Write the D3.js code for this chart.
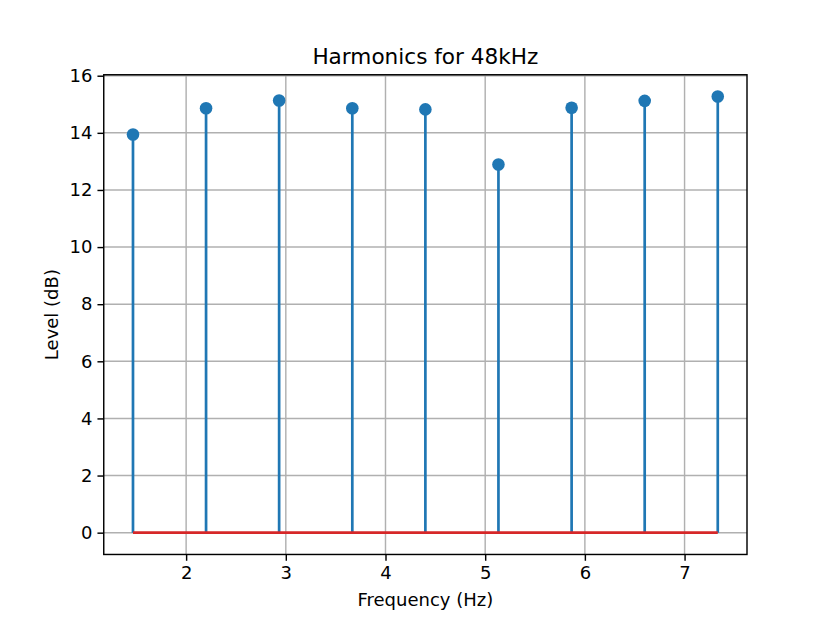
<!DOCTYPE html>
<html>
<head>
<meta charset="utf-8">
<script src="https://cdn.jsdelivr.net/npm/d3@7"></script>
<style>
  body { margin: 0; background: #fff; }
  text { font-family: "DejaVu Sans", sans-serif; fill: #000; }
</style>
</head>
<body>
<svg width="830" height="623"></svg>
<script>
// Data
var freqs = [1.467, 2.2, 2.933, 3.667, 4.4, 5.133, 5.867, 6.6, 7.333];
var levels = [13.94, 14.86, 15.13, 14.86, 14.82, 12.89, 14.88, 15.12, 15.27];
var xTicks = [2, 3, 4, 5, 6, 7];
var yTicks = [0, 2, 4, 6, 8, 10, 12, 14, 16];

var svg = d3.select("svg"),
  width = +svg.attr("width"),
  height = +svg.attr("height");

// axes box like matplotlib defaults
var axLeft = 0.125 * width, axRight = 0.9 * width,
  axTop = 0.12 * height, axBottom = 0.89 * height;

var xmin = d3.min(freqs), xmax = d3.max(freqs), xpad = (xmax - xmin) * 0.05;
var ymax = d3.max(levels), ypad = ymax * 0.05;

var x = d3.scaleLinear().domain([xmin - xpad, xmax + xpad]).range([axLeft, axRight]);
var y = d3.scaleLinear().domain([-ypad, ymax + ypad]).range([axBottom, axTop]);

var blue = "#1f77b4", red = "#d62728";

// grid
svg.append("g").selectAll("line").data(xTicks).enter().append("line")
  .attr("x1", d => x(d)).attr("x2", d => x(d))
  .attr("y1", axTop).attr("y2", axBottom)
  .attr("stroke", "#b0b0b0").attr("stroke-width", 1.44);
svg.append("g").selectAll("line").data(yTicks).enter().append("line")
  .attr("x1", axLeft).attr("x2", axRight)
  .attr("y1", d => y(d)).attr("y2", d => y(d))
  .attr("stroke", "#b0b0b0").attr("stroke-width", 1.44);

// stems
svg.append("g").selectAll("line").data(freqs).enter().append("line")
  .attr("x1", d => x(d)).attr("x2", d => x(d))
  .attr("y1", y(0)).attr("y2", (d, i) => y(levels[i]))
  .attr("stroke", blue).attr("stroke-width", 2.7);

// baseline
svg.append("line")
  .attr("x1", x(xmin)).attr("x2", x(xmax))
  .attr("y1", y(0)).attr("y2", y(0))
  .attr("stroke", red).attr("stroke-width", 2.7);

// markers
svg.append("g").selectAll("circle").data(freqs).enter().append("circle")
  .attr("cx", d => x(d)).attr("cy", (d, i) => y(levels[i]))
  .attr("r", 6.3).attr("fill", blue);

// axes
var xAxis = d3.axisBottom(x).tickValues(xTicks).tickFormat(d3.format("d")).tickSize(6.3).tickPadding(5);
var yAxis = d3.axisLeft(y).tickValues(yTicks).tickFormat(d3.format("d")).tickSize(6.3).tickPadding(5);

var gx = svg.append("g").attr("transform", "translate(0," + axBottom + ")").call(xAxis);
var gy = svg.append("g").attr("transform", "translate(" + axLeft + ",0)").call(yAxis);
[gx, gy].forEach(function(g) {
  g.select(".domain").remove();
  g.selectAll(".tick line").attr("stroke", "#000").attr("stroke-width", 1.44);
  g.selectAll(".tick text").style("font-size", "18px").style("font-family", "DejaVu Sans");
});

// frame
svg.append("rect")
  .attr("x", axLeft).attr("y", axTop)
  .attr("width", axRight - axLeft).attr("height", axBottom - axTop)
  .attr("fill", "none").attr("stroke", "#000").attr("stroke-width", 1.44);

// labels
svg.append("text")
  .attr("x", (axLeft + axRight) / 2).attr("y", axTop - 10.8)
  .attr("text-anchor", "middle").style("font-size", "21.6px")
  .text("Harmonics for 48kHz");
svg.append("text")
  .attr("x", (axLeft + axRight) / 2).attr("y", 606)
  .attr("text-anchor", "middle").style("font-size", "18px")
  .text("Frequency (Hz)");
svg.append("text")
  .attr("transform", "translate(58," + (axTop + axBottom) / 2 + ") rotate(-90)")
  .attr("text-anchor", "middle").style("font-size", "18px")
  .text("Level (dB)");
</script>
</body>
</html>
